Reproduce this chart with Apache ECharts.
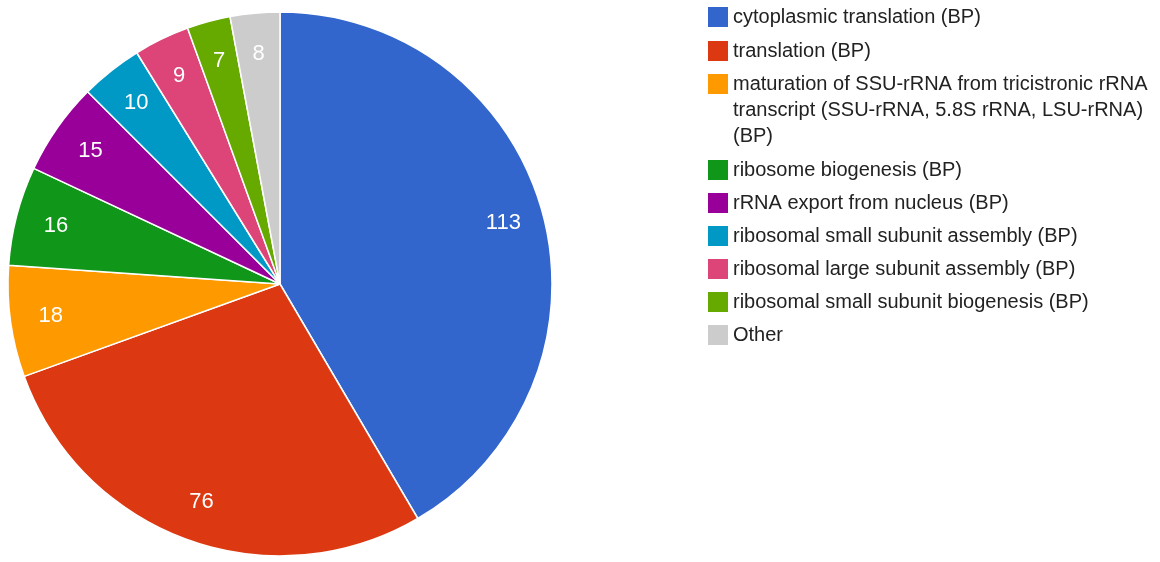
<!DOCTYPE html>
<html>
<head>
<meta charset="utf-8">
<title>GO biological process terms</title>
<script src="https://cdn.jsdelivr.net/npm/echarts@6/dist/echarts.min.js"></script>
<style>
  html, body { margin: 0; padding: 0; background: #ffffff; }
  #chart { width: 1160px; height: 562px; }
</style>
</head>
<body>
<div id="chart"></div>
<script>
// GO terms (biological process) and the number of genes annotated to each
const categories = [
  'cytoplasmic translation (BP)',
  'translation (BP)',
  'maturation of SSU-rRNA from tricistronic rRNA transcript (SSU-rRNA, 5.8S rRNA, LSU-rRNA) (BP)',
  'ribosome biogenesis (BP)',
  'rRNA export from nucleus (BP)',
  'ribosomal small subunit assembly (BP)',
  'ribosomal large subunit assembly (BP)',
  'ribosomal small subunit biogenesis (BP)',
  'Other'
];
const counts = [113, 76, 18, 16, 15, 10, 9, 7, 8];
const colors = ['#3366cc', '#dc3912', '#ff9900', '#109618', '#990099',
                '#0099c6', '#dd4477', '#66aa00', '#cccccc'];

// wrapped text for the long legend entry; two blank lines above keep
// the first printed line level with its swatch (text is centred vertically)
const legendLines = {
  [categories[2]]: '\n\nmaturation of SSU-rRNA from tricistronic rRNA\ntranscript (SSU-rRNA, 5.8S rRNA, LSU-rRNA)\n(BP)'
};

const FONT = 'Arial, "Liberation Sans", sans-serif';
const CENTER = [280, 284];
const R = 272;

const sliceData = categories.map((name, i) => ({
  name: name,
  value: counts[i],
  itemStyle: { color: colors[i] }
}));

const legendBase = {
  orient: 'vertical',
  left: 708,
  padding: 0,
  itemWidth: 20,
  itemHeight: 20,
  itemGap: 13,
  icon: 'rect',
  selectedMode: false,
  itemStyle: { borderWidth: 0 },
  textStyle: { fontFamily: FONT, fontSize: 20, color: '#222222' }
};

const chart = echarts.init(document.getElementById('chart'), null, { renderer: 'canvas' });

chart.setOption({
  animation: false,
  color: colors,
  legend: [
    Object.assign({}, legendBase, {
      top: 7,
      itemGap: 14,
      data: categories.slice(0, 2)
    }),
    Object.assign({}, legendBase, {
      top: 19,
      data: [categories[2]],
      formatter: name => legendLines[name] || name,
      textStyle: { fontFamily: FONT, fontSize: 20, color: '#222222', lineHeight: 26 }
    }),
    Object.assign({}, legendBase, {
      top: 160,
      data: categories.slice(3)
    })
  ],
  series: [
    {
      type: 'pie',
      center: CENTER,
      radius: [0, R],
      startAngle: 90,
      clockwise: true,
      avoidLabelOverlap: false,
      label: { show: false },
      labelLine: { show: false },
      emphasis: { disabled: true },
      itemStyle: { borderColor: '#ffffff', borderWidth: 1.5 },
      data: sliceData
    },
    {
      // value labels placed in the outer band of each slice
      type: 'pie',
      center: CENTER,
      radius: [0.68 * R, R],
      startAngle: 90,
      clockwise: true,
      silent: true,
      avoidLabelOverlap: false,
      emphasis: { disabled: true },
      itemStyle: { color: 'rgba(0,0,0,0)' },
      label: {
        show: true,
        position: 'inside',
        formatter: '{c}',
        color: '#ffffff',
        fontFamily: FONT,
        fontSize: 22
      },
      labelLine: { show: false },
      data: categories.map((name, i) => ({ name: name, value: counts[i] }))
    }
  ]
});
</script>
</body>
</html>
